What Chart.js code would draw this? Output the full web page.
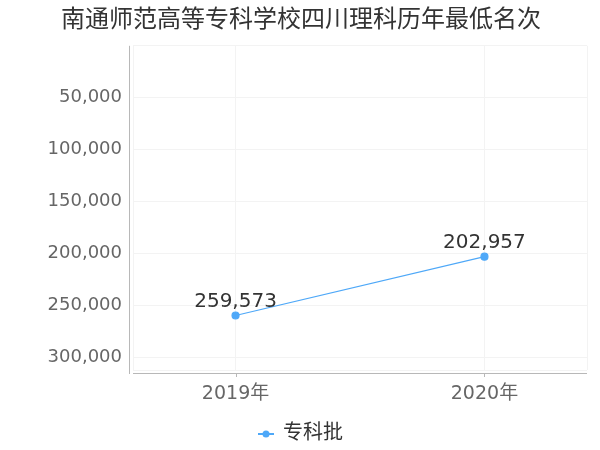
<!DOCTYPE html>
<html>
<head>
<meta charset="utf-8">
<script src="https://cdn.jsdelivr.net/npm/chart.js@4/dist/chart.umd.min.js"></script>
<style>
  html, body { margin: 0; padding: 0; background: #fff; }
  #wrap { width: 600px; height: 450px; }
</style>
</head>
<body>
<div id="wrap"><canvas id="c"></canvas></div>
<script>
const years = [2019, 2020];
const yearSuffix = "年";
const seriesName = "专科批";
const minRank = [259573, 202957];
const yTicks = [50000, 100000, 150000, 200000, 250000, 300000];

const FONT = "'DejaVu Sans', 'Noto Sans CJK SC', sans-serif";
const COLOR = "#4ea8f8";

// legend marker: short line with a dot
function legendMarker() {
  const cv = document.createElement("canvas");
  cv.width = 16;
  cv.height = 8;
  const g = cv.getContext("2d");
  g.strokeStyle = COLOR;
  g.lineWidth = 2;
  g.beginPath();
  g.moveTo(0, 4);
  g.lineTo(16, 4);
  g.stroke();
  g.fillStyle = COLOR;
  g.beginPath();
  g.arc(8, 4, 3.5, 0, Math.PI * 2);
  g.fill();
  return cv;
}

const fmt = (v) => v.toLocaleString("en-US");

const extras = {
  id: "extras",
  afterDatasetsDraw(chart) {
    const ctx = chart.ctx;
    const a = chart.chartArea;
    ctx.save();
    // axis lines set a bit off the plot box
    ctx.strokeStyle = "#b8b8b8";
    ctx.lineWidth = 1;
    ctx.beginPath();
    ctx.moveTo(a.left - 3.5, a.top);
    ctx.lineTo(a.left - 3.5, a.bottom + 4);
    ctx.moveTo(a.left, a.bottom + 3.5);
    ctx.lineTo(a.right, a.bottom + 3.5);
    const xs = chart.scales.x;
    years.forEach((y) => {
      const px = Math.round(xs.getPixelForValue(y)) + 0.5;
      ctx.moveTo(px, a.bottom + 3.5);
      ctx.lineTo(px, a.bottom + 7);
    });
    ctx.stroke();
    // value labels
    ctx.fillStyle = "#333";
    ctx.font = "20px " + FONT;
    ctx.textAlign = "center";
    ctx.textBaseline = "bottom";
    chart.getDatasetMeta(0).data.forEach((pt, i) => {
      ctx.fillText(fmt(minRank[i]), pt.x, pt.y - 4);
    });
    ctx.restore();
  },
};

new Chart(document.getElementById("c"), {
  type: "line",
  data: {
    datasets: [
      {
        label: seriesName,
        data: years.map((y, i) => ({ x: y, y: minRank[i] })),
        borderColor: COLOR,
        backgroundColor: COLOR,
        borderWidth: 1.2,
        pointRadius: 3.5,
        pointStyle: "circle",
        tension: 0,
      },
    ],
  },
  options: {
    responsive: true,
    maintainAspectRatio: false,
    animation: false,
    layout: { padding: { left: 2, right: 0, top: 0, bottom: -4 } },
    plugins: {
      title: {
        display: true,
        text: "南通师范高等专科学校四川理科历年最低名次",
        color: "#333",
        font: { family: FONT, size: 24, weight: "normal", lineHeight: 1.2 },
        padding: { top: 6, bottom: 11 },
      },
      legend: {
        position: "bottom",
        labels: {
          usePointStyle: true,
          pointStyleWidth: 14,
          color: "#333",
          font: { family: FONT, size: 20 },
          padding: 4,
          generateLabels(chart) {
            const ds = chart.data.datasets[0];
            return [
              {
                text: ds.label,
                pointStyle: legendMarker(),
                fillStyle: COLOR,
                strokeStyle: COLOR,
                lineWidth: 0,
                fontColor: "#333",
                datasetIndex: 0,
              },
            ];
          },
        },
      },
      tooltip: { enabled: false },
    },
    scales: {
      x: {
        type: "linear",
        min: 2018.588,
        max: 2020.412,
        afterBuildTicks(scale) {
          scale.ticks = [scale.min, ...years, scale.max].map((v) => ({ value: v }));
        },
        afterFit(scale) {
          scale.height = 50;
        },
        grid: { color: "#f3f3f3", drawTicks: false },
        border: { display: false },
        ticks: {
          padding: 13,
          color: "#666",
          font: { family: FONT, size: 19 },
          autoSkip: false,
          maxRotation: 0,
          callback: (v) => (years.includes(v) ? v + yearSuffix : ""),
        },
      },
      y: {
        reverse: true,
        min: 0,
        max: 312000,
        afterBuildTicks(scale) {
          scale.ticks = [0, ...yTicks, 312000].map((v) => ({ value: v }));
        },
        afterFit(scale) {
          scale.width = 131;
        },
        grid: { color: "#f3f3f3", drawTicks: false },
        border: { display: false },
        ticks: {
          padding: 11,
          color: "#666",
          font: { family: FONT, size: 18 },
          callback: (v) => (yTicks.includes(v) ? fmt(v) : ""),
        },
      },
      // empty strip on the right edge
      pad: {
        position: "right",
        display: true,
        grid: { display: false },
        border: { display: false },
        ticks: { display: false },
        afterFit(scale) {
          scale.width = 12;
        },
      },
    },
  },
  plugins: [extras],
});
</script>
</body>
</html>
